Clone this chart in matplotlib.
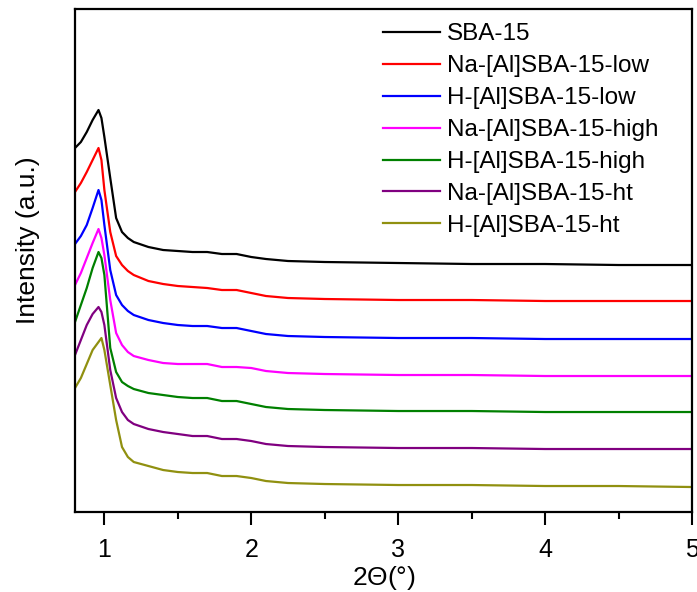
import matplotlib
matplotlib.use("Agg")
import matplotlib.pyplot as plt
from matplotlib.ticker import MultipleLocator

plt.rcParams['font.family'] = ['Liberation Sans', 'DejaVu Sans']
plt.rcParams['mathtext.fontset'] = 'custom'
plt.rcParams['mathtext.it'] = 'Liberation Sans:italic'
plt.rcParams['mathtext.rm'] = 'Liberation Sans'

# 2theta grid (degrees)
two_theta = [0.80, 0.84, 0.88, 0.92, 0.96, 0.98, 1.00, 1.04, 1.08, 1.12, 1.16, 1.20,
             1.30, 1.40, 1.50, 1.60, 1.70, 1.80, 1.90, 2.00, 2.10, 2.25, 2.50,
             3.00, 3.50, 4.00, 4.50, 5.00]

# stacked intensities (a.u.), offset already included
sba15 = [364, 370, 380, 392, 402, 394, 375, 334, 294, 280, 274, 270,
         265, 262, 261, 260, 260, 258, 258, 255, 253, 251, 250,
         249, 248, 248, 247, 247]
na_low = [320, 329, 340, 352, 364, 352, 322, 280, 256, 247, 241, 237,
          231, 228, 226, 225, 224, 222, 222, 219, 216, 214, 213,
          212, 212, 211, 211, 211]
h_low = [268, 276, 287, 304, 322, 312, 287, 242, 217, 207, 201, 197,
         192, 189, 187, 186, 186, 184, 184, 181, 178, 176, 175,
         174, 174, 173, 173, 173]
na_high = [227, 239, 254, 269, 283, 274, 257, 212, 179, 167, 160, 156,
           152, 149, 148, 148, 148, 145, 145, 144, 141, 139, 138,
           137, 137, 136, 136, 136]
h_high = [190, 207, 224, 244, 260, 254, 237, 164, 140, 130, 126, 123,
          119, 117, 115, 114, 114, 111, 111, 108, 105, 103, 102,
          101, 101, 100, 100, 100]
na_ht = [157, 172, 187, 198, 205, 200, 187, 142, 114, 100, 92, 88,
         83, 80, 78, 76, 76, 73, 73, 71, 68, 66, 65,
         64, 64, 63, 63, 63]
h_ht = [124, 134, 148, 162, 170, 174, 162, 127, 92, 65, 55, 50,
        46, 42, 40, 39, 39, 36, 36, 34, 31, 29, 28,
        27, 27, 26, 26, 25]

labels = ["SBA-15", "Na-[Al]SBA-15-low", "H-[Al]SBA-15-low", "Na-[Al]SBA-15-high",
          "H-[Al]SBA-15-high", "Na-[Al]SBA-15-ht", "H-[Al]SBA-15-ht"]
series = [sba15, na_low, h_low, na_high, h_high, na_ht, h_ht]
colors = ["#000000", "#ff0000", "#0000ff", "#ff00ff", "#008000", "#800080", "#909010"]

fig = plt.figure(figsize=(6.97, 5.92), dpi=100)
ax = fig.add_axes([0.1076, 0.1351, 0.8852, 0.8497])

for y, lab, c in zip(series, labels, colors):
    ax.plot(two_theta, y, color=c, lw=1.6, label=lab)

ax.set_xlim(0.8, 5)
ax.set_ylim(0, 503)
ax.xaxis.set_major_locator(MultipleLocator(1))
ax.xaxis.set_minor_locator(MultipleLocator(0.5))
ax.tick_params(axis='x', which='major', direction='out', length=9, width=1.5,
               labelsize=18, pad=10)
ax.tick_params(axis='x', which='minor', direction='out', length=5, width=1.5)
ax.set_yticks([])
for s in ax.spines.values():
    s.set_linewidth(1.6)

ax.set_xlabel(r'2$\mathit{\Theta}$(°)', fontsize=19, labelpad=1.5)
ax.set_ylabel('Intensity (a.u.)', fontsize=19)
ax.yaxis.set_label_coords(-0.057, 0.54)

ax.legend(loc='upper left', bbox_to_anchor=(0.499, 0.972), frameon=False,
          fontsize=17.5, handlelength=2.35, handletextpad=0.3,
          labelspacing=0.41, borderaxespad=0, borderpad=0)

fig.savefig("out.png", dpi=100)
